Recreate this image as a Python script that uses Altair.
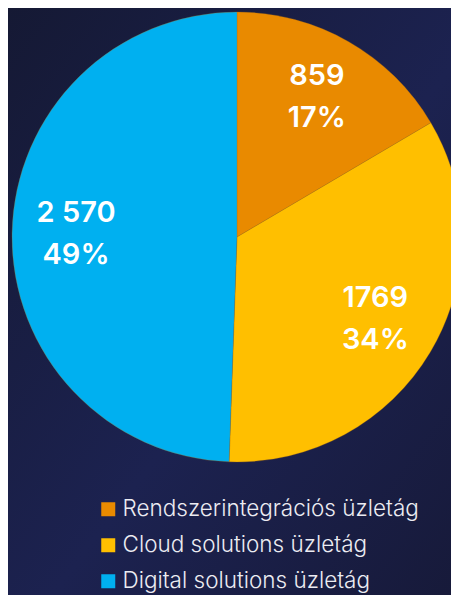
import altair as alt
import pandas as pd

categories = ["Rendszerintegrációs üzletág", "Cloud solutions üzletág", "Digital solutions üzletág"]
values = [859, 1769, 2570]
value_labels = ["859", "1769", "2 570"]
pct_labels = ["17%", "34%", "49%"]
colors = ["#E98A00", "#FFBF00", "#00B0F0"]

df = pd.DataFrame({
    "cat": categories,
    "val": values,
    "vlab": value_labels,
    "plab": pct_labels,
    "idx": list(range(len(categories))),
})

W, H = 443, 587
CX, CY, R = 229, 229, 225

bg = alt.Chart(pd.DataFrame({"a": [0]})).mark_rect(
    color=alt.Gradient(
        gradient="linear",
        x1=0, y1=0, x2=1, y2=1,
        stops=[
            alt.GradientStop(color="#151934", offset=0),
            alt.GradientStop(color="#1c2250", offset=0.55),
            alt.GradientStop(color="#171a3a", offset=1),
        ],
    )
).encode(x=alt.value(0), x2=alt.value(W), y=alt.value(0), y2=alt.value(H))

base = alt.Chart(df).encode(
    theta=alt.Theta("val:Q", stack=True),
    order=alt.Order("idx:Q"),
)

arcs = base.mark_arc(outerRadius=R, stroke="#b07010", strokeWidth=0.3).encode(
    color=alt.Color(
        "cat:N",
        scale=alt.Scale(domain=categories, range=colors),
        legend=alt.Legend(title=None),
    ),
    x=alt.value(CX),
    y=alt.value(CY),
)

txt_style = dict(radius=161, font="Inter", fontSize=29, fontWeight=600, color="white", align="center", baseline="middle")
t1 = base.mark_text(dy=-21, **txt_style).encode(text="vlab:N", x=alt.value(CX), y=alt.value(CY))
t2 = base.mark_text(dy=21, **txt_style).encode(text="plab:N", x=alt.value(CX), y=alt.value(CY))

chart = alt.layer(bg, arcs, t1, t2).properties(
    width=W, height=H,
    autosize=alt.AutoSizeParams(type="none"),
    padding=0,
    background="#161a36",
).configure_view(stroke=None).configure_legend(
    orient="none",
    legendX=89,
    legendY=490,
    padding=0,
    labelFont="Inter",
    labelFontSize=22.5,
    labelFontWeight=300,
    labelColor="#ececf2",
    labelOffset=3,
    symbolType="square",
    symbolSize=196,
    symbolStrokeWidth=0,
    symbolOpacity=1,
    rowPadding=13,
    labelLimit=400,
)

chart.save("out.html", embed_options={"renderer": "svg", "actions": False})
